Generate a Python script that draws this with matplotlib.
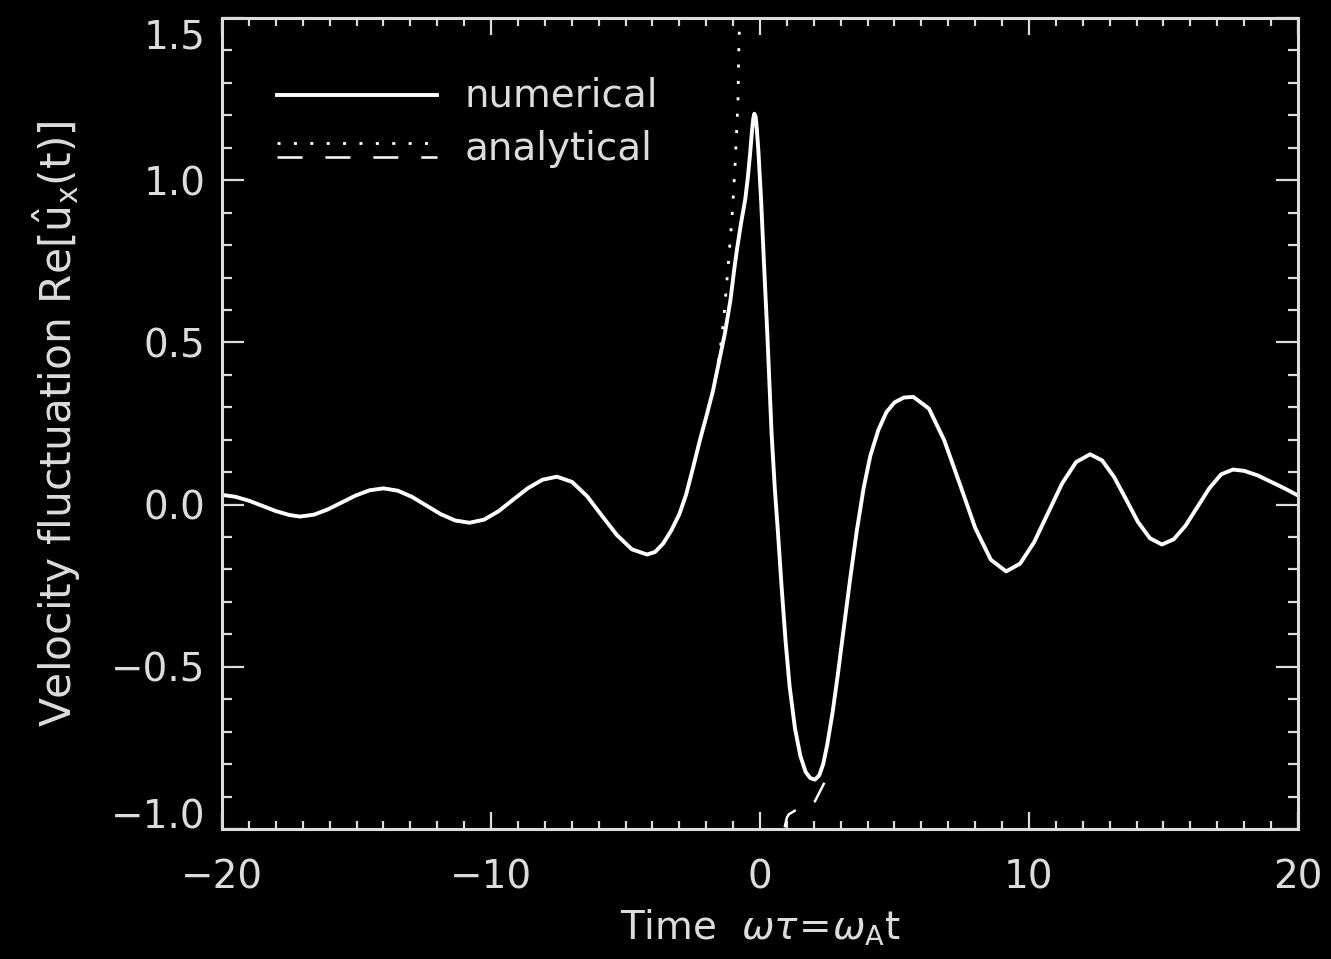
import matplotlib
matplotlib.use("Agg")
from matplotlib import pyplot as plt
from matplotlib.ticker import MultipleLocator

# numerical solution, Re[u_x(t)]
t_num = [-20.0, -19.5, -19.0, -18.5, -18.0, -17.5, -17.1,
         -16.58, -16.07, -15.55, -15.03, -14.52, -14.0,
         -13.47, -12.93, -12.4, -11.87, -11.33, -10.8,
         -10.26, -9.72, -9.18, -8.63, -8.09, -7.55,
         -6.99, -6.43, -5.88, -5.32, -4.76, -4.2,
         -3.9, -3.6, -3.3, -3.0, -2.75, -2.5, -2.23, -2.0, -1.75, -1.5,
         -1.3, -1.1, -0.95, -0.85, -0.7, -0.55, -0.45, -0.37, -0.3, -0.25,
         -0.21, -0.16, -0.12, -0.06, 0.04, 0.15, 0.27, 0.43, 0.55, 0.66,
         0.8, 0.95, 1.1, 1.3, 1.5, 1.7, 1.87, 2.04, 2.2, 2.35,
         2.5, 2.7, 2.9, 3.1, 3.35, 3.6, 3.85, 4.1, 4.4, 4.7,
         5.0, 5.35, 5.7,
         6.28, 6.85, 7.43, 8.0, 8.58, 9.15,
         9.67, 10.19, 10.71, 11.23, 11.75, 12.27,
         12.72, 13.16, 13.61, 14.05, 14.5, 14.94,
         15.38, 15.82, 16.26, 16.7, 17.14, 17.58,
         18.0, 18.5, 19.0, 19.5, 20.0]
u_num = [0.030, 0.024, 0.012, -0.004, -0.020, -0.032, -0.037,
         -0.031, -0.015, 0.0065, 0.028, 0.044, 0.050,
         0.043, 0.0235, -0.003, -0.0295, -0.049, -0.056,
         -0.0465, -0.0205, 0.015, 0.0505, 0.0765, 0.086,
         0.070, 0.026, -0.034, -0.094, -0.138, -0.154,
         -0.146, -0.120, -0.080, -0.030, 0.030, 0.110, 0.200, 0.270, 0.350, 0.450,
         0.530, 0.630, 0.730, 0.790, 0.870, 0.940, 1.010, 1.080, 1.150, 1.190,
         1.205, 1.195, 1.160, 1.090, 0.940, 0.740, 0.530, 0.220, 0.050, -0.077,
         -0.250, -0.420, -0.560, -0.690, -0.775, -0.825, -0.843, -0.848, -0.835, -0.800,
         -0.740, -0.640, -0.520, -0.390, -0.230, -0.080, 0.050, 0.150, 0.230, 0.285,
         0.315, 0.330, 0.332,
         0.296, 0.198, 0.063, -0.072, -0.170, -0.206,
         -0.182, -0.116, -0.0255, 0.065, 0.131, 0.155,
         0.136, 0.0855, 0.016, -0.0535, -0.104, -0.123,
         -0.107, -0.065, -0.0075, 0.050, 0.093, 0.108,
         0.104, 0.090, 0.070, 0.050, 0.028]

# analytical solution, branch before the peak (dotted)
t_ana1 = [-0.72, -0.74, -0.78, -0.82, -0.93, -1.04, -1.19, -1.34, -1.49, -1.7]
u_ana1 = [1.60, 1.50, 1.44, 1.24, 1.04, 0.886, 0.73, 0.58, 0.47, 0.37]

# analytical solution, branch after the peak (dashed)
t_ana2 = [0.85, 0.93, 1.0, 1.07, 1.37, 1.7, 2.04, 2.42, 2.46]
u_ana2 = [-1.05, -0.99, -0.965, -0.955, -0.94, -0.925, -0.915, -0.853, -0.835]

fg = "#dcdcdc"
plt.rcParams["font.family"] = "DejaVu Sans"
plt.rcParams["mathtext.fontset"] = "dejavusans"
plt.rcParams["lines.scale_dashes"] = False

fig = plt.figure(figsize=(13.31, 9.59), dpi=100, facecolor="black")
ax = fig.add_axes([0.1668, 0.1356, 0.8084, 0.8456], facecolor="black")

dotted = (0, (2.2, 9.6))
ax.plot(t_ana1, u_ana1, color="white", lw=2.0, linestyle=dotted)
ax.plot(t_ana2, u_ana2, color="white", lw=1.8, linestyle=(17.3, (15.8, 14.4)))
ax.plot(t_num, u_num, color="white", lw=2.8, solid_joinstyle="round")

ax.set_xlim(-20, 20)
ax.set_ylim(-1.0, 1.5)
ax.set_xticks([-20, -10, 0, 10, 20])
ax.xaxis.set_minor_locator(MultipleLocator(1))
ax.set_yticks([-1.0, -0.5, 0.0, 0.5, 1.0, 1.5])
ax.set_yticklabels(["\u22121.0", "\u22120.5", "0.0", "0.5", "1.0", "1.5"])
ax.yaxis.set_minor_locator(MultipleLocator(0.1))

for side in ax.spines.values():
    side.set_color(fg)
    side.set_linewidth(2.2)

ax.tick_params(which="both", direction="in", top=True, right=True,
               color=fg, width=1.6, labelcolor=fg, labelsize=28)
ax.tick_params(axis="x", which="major", length=12, pad=21)
ax.tick_params(axis="x", which="minor", length=5.5)
ax.tick_params(axis="y", which="major", length=15.5, pad=12)
ax.tick_params(axis="y", which="minor", length=7.5)

ylabels = ax.get_yticklabels()
ylabels[0].set_verticalalignment("baseline")
ylabels[-1].set_verticalalignment("top")

ax.set_xlabel(r"Time  $\omega\tau\!=\!\omega_{\mathrm{A}}$t", color=fg,
              fontsize=28, labelpad=8)
ax.set_ylabel(r"Velocity fluctuation Re[$\hat{\mathrm{u}}_{\mathrm{x}}$(t)]",
              color=fg, fontsize=30.5, labelpad=20)

# legend drawn by hand: analytical entry has two line styles
tr = ax.transAxes
ax.plot([0.0511, 0.1998], [0.905, 0.905], color="white", lw=2.8, transform=tr)
ax.plot([0.0511, 0.1998], [0.846, 0.846], color="white", lw=2.0,
        linestyle=dotted, transform=tr)
ax.plot([0.0511, 0.1998], [0.829, 0.829], color="white", lw=1.8,
        linestyle=(0, (18.0, 16.5)), transform=tr)
ax.text(0.2258, 0.8903, "numerical", color=fg, fontsize=28,
        va="baseline", transform=tr)
ax.text(0.2258, 0.8249, "analytical", color=fg, fontsize=28,
        va="baseline", transform=tr)

fig.savefig("out.png", dpi=100, facecolor="black")
